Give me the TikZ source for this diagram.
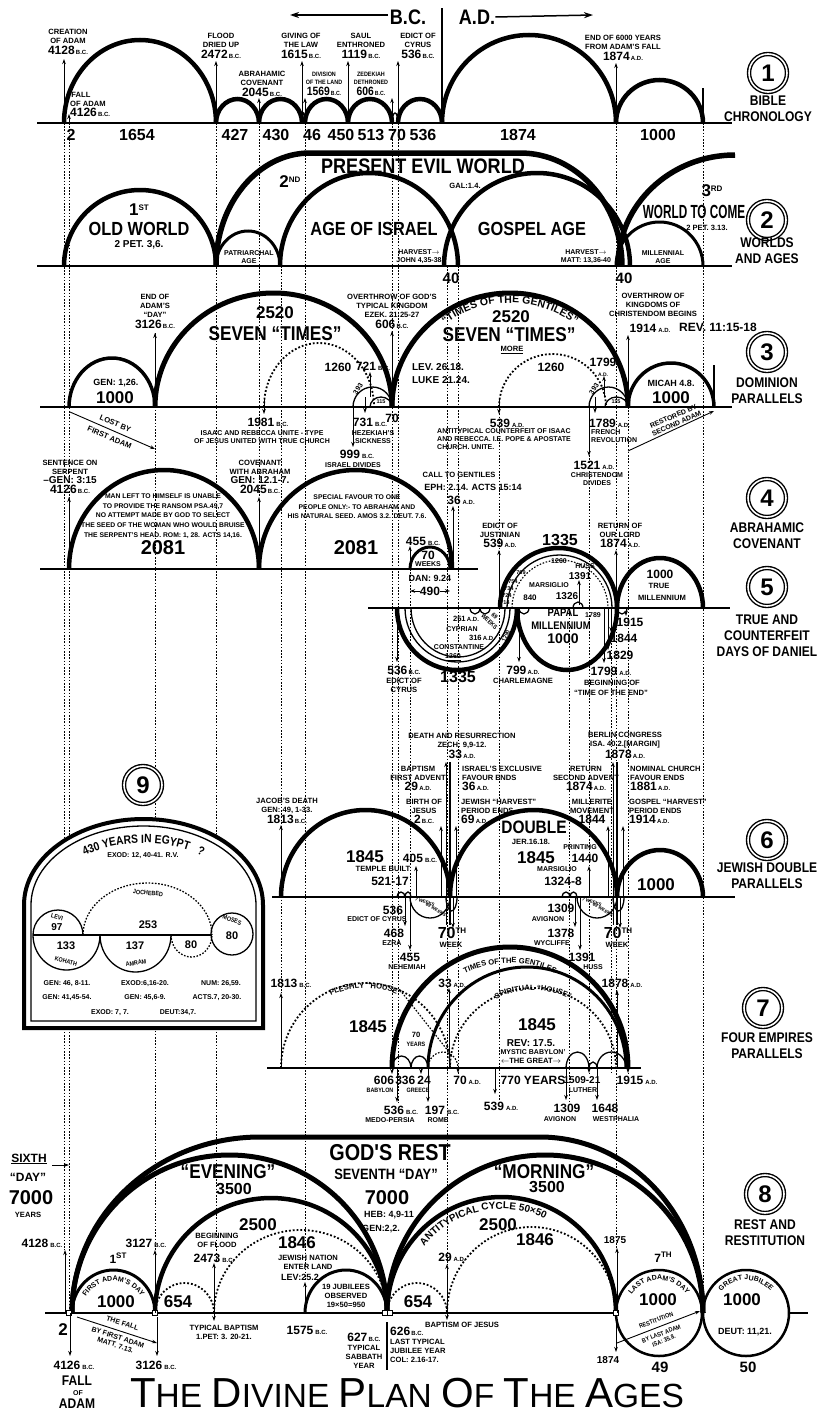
\documentclass[tikz,border=0pt]{standalone}
\usepackage{fontspec}
\setmainfont{Liberation Sans}
\newfontfamily\cfam{Liberation Sans}[FakeStretch=0.86]
\newfontfamily\titlefont{Liberation Sans}
\usetikzlibrary{arrows.meta,decorations.text}
\newcommand\lfs{\fontsize{7.6}{8.9}\selectfont\bfseries}
\newcommand\lft{\fontsize{7}{8}\selectfont\bfseries}
\newcommand\lfx{\cfam\fontsize{6.3}{7.4}\selectfont\bfseries}
\newcommand\lfm{\fontsize{12}{13}\selectfont\bfseries}
\newcommand\lfn{\fontsize{17}{18}\selectfont\bfseries}
\newcommand\lfb{\cfam\fontsize{19}{20}\selectfont\bfseries}
\newcommand\fsz[1]{\fontsize{#1}{#1}\selectfont\bfseries}
\newcommand\BC{\,{\fontsize{6}{6}\selectfont B.C.}}
\newcommand\AD{\,{\fontsize{6}{6}\selectfont A.D.}}
\newcommand\ra{\ensuremath{\rightarrow}}
\newcommand\la{\ensuremath{\leftarrow}}
\newcommand\sps[1]{\raisebox{5pt}{\fontsize{8}{8}\selectfont #1}}
\newcommand\tcap[2]{{\fontsize{42}{42}\selectfont #1}{\fontsize{33.5}{33.5}\selectfont #2}}
\newcommand\upa[5][]{\draw[#1] (#2,#5) arc[start angle=180,end angle=0,x radius={((#3)-(#2))*0.5pt},y radius={#4pt}];}
\newcommand\dna[5][]{\draw[#1] (#2,#5) arc[start angle=180,end angle=360,x radius={((#3)-(#2))*0.5pt},y radius={#4pt}];}
\newcommand\archtext[8]{\path[decorate,decoration={text along path,text align=center,text={|#1|#2}}] ([shift={(#7:#5pt and #6pt)}]#3,#4) arc[start angle=#7,end angle=#8,x radius=#5pt,y radius=#6pt];}
\begin{document}
\begin{tikzpicture}[x=1pt,y=-1pt,
  lbs/.style={font=\lfs,align=center,inner sep=0pt},
  lbt/.style={font=\lft,align=center,inner sep=0pt},
  lbx/.style={font=\lfx,align=center,inner sep=0pt},
  lbm/.style={font=\lfm,align=center,inner sep=0pt},
  lbn/.style={font=\lfn,align=center,inner sep=0pt},
  lbb/.style={font=\lfb,align=center,inner sep=0pt},
  thk/.style={line width=4.5pt},
  thm/.style={line width=3pt},
  thn/.style={line width=1.3pt},
  bln/.style={line width=1.8pt},
  dotc/.style={line width=1.8pt,dash pattern=on 1.8pt off 2pt},
  vd/.style={line width=0.9pt,dash pattern=on 1.6pt off 1.6pt},
  ar/.style={line width=0.9pt,-{Stealth[length=5pt,width=3.5pt]}},
  circ/.style={circle,draw,fill=white,double,double distance=1.6pt,line width=1.4pt,minimum size=38pt,inner sep=0pt,font=\fsz{24}},
  sidel/.style={font=\cfam\fontsize{14}{16}\selectfont\bfseries,align=center,inner sep=0pt}]
\fill[white] (0,0) rectangle (822,1413);
\useasboundingbox (0,0) rectangle (822,1413);

% ---------- dotted verticals
\foreach \x/\a/\b in {64/123/1250,69/123/1313,155/333/1250,216/123/1262,259/123/497,281/266/993,305/123/1281,392/123/1068,398/123/1103,410/569/957,447/266/1265,458/266/1076,499/407/1100,569/608/1103,589/407/1073,611/608/1073,616/123/1248,628/407/1073,703/123/1300}{\draw[vd] (\x,\a) -- (\x,\b);}

% ---------- header
\draw[line width=1.5pt,-{Stealth[length=9pt,width=6pt]}] (388,15) -- (290,15);
\node[font=\cfam\fsz{21},inner sep=0pt] (hbc) at (408,17) {B.C.};
\node[font=\cfam\fsz{21},inner sep=0pt] (had) at (477,17) {A.D.};
\draw[line width=1.5pt,-{Stealth[length=9pt,width=6pt]}] (had.east) -- (593,15);

% ---------- ROW 1
\draw[bln] (37,123) -- (732,123);
\upa[thk]{64}{216}{83}{123}
\upa[thk]{216}{259}{24}{123}
\upa[thk]{259}{302}{24}{123}
\upa[thn]{302}{305}{10}{123}
\upa[thk]{305}{348}{24}{123}
\upa[thk]{348}{392}{24}{123}
\upa[thn]{392}{398}{10}{123}
\upa[thk]{398}{442}{24}{123}
\upa[thk]{442}{616}{88}{123}
\upa[thk]{616}{703}{43}{123}
\draw[thn] (703,123) -- (703,88);
\draw[thn] (442,123) -- (442,8);
\foreach \x/\y in {64/59,216/61,302/61,348/61,398/61,616/63,69/114,259/98,305/98,392/98}{\draw[ar] (\x,123) -- (\x,\y);}
\node[lbs,anchor=south] (r1a) at (68,55) {CREATION\\OF ADAM\\[2pt]{\lfm 4128}\BC};
\node[lbs,anchor=south west,align=left] (r1b) at (70,117) {\,FALL\\OF ADAM\\[1pt]{\lfm 4126}\BC};
\node[lbs,anchor=south] (r1c) at (221,59) {FLOOD\\DRIED UP\\[2pt]{\lfm 2472}\BC};
\node[lbs,anchor=south] (r1d) at (262,97) {ABRAHAMIC\\COVENANT\\[2pt]{\lfm 2045}\BC};
\node[lbs,anchor=south] (r1e) at (301,59) {GIVING OF\\THE LAW\\[2pt]{\lfm 1615}\BC};
\node[lbx,anchor=south] (r1f) at (324,96) {DIVISION\\OF THE LAND\\[2pt]{\lfm 1569}\BC};
\node[lbs,anchor=south] (r1g) at (361,59) {SAUL\\ENTHRONED\\[2pt]{\lfm 1119}\BC};
\node[lbx,anchor=south] (r1h) at (371,96) {ZEDEKIAH\\DETHRONED\\[2pt]{\lfm 606}\BC};
\node[lbs,anchor=south] (r1i) at (418,59) {EDICT OF\\CYRUS\\[2pt]{\lfm 536}\BC};
\node[lbs,anchor=south] (r1j) at (623,61) {END OF 6000 YEARS\\FROM ADAM'S FALL\\[2pt]{\lfm 1874}\AD};
\foreach \x/\lab [count=\i] in {71/2,137/1654,235/427,276/430,312/46,341/450,371/513,397/70,423/536,518/1874,658/1000}{\node[font=\fsz{16},inner sep=0pt] (rn\i) at (\x,135) {\lab};}

% ---------- ROW 2
\draw[bln] (37,266) -- (732,266);
\upa[thk]{64}{216}{76}{266}
\upa[thm]{216}{280}{35}{266}
\draw[line width=5.5pt] (216,266) arc[start angle=180,end angle=90,x radius=94pt,y radius=113pt] -- (520,153) arc[start angle=90,end angle=0,x radius=102pt,y radius=113pt];
\upa[thk]{280}{458}{93}{266}
\upa[thk]{444}{630}{93}{266}
\upa[thm]{616}{703}{44}{266}
\draw[line width=5.5pt] (618,266) arc[start angle=180,end angle=90,x radius=117pt,y radius=111pt];
\node[lbn] (w1) at (139,210) {1\sps{ST}};
\node[lbb] (w2) at (139,229) {OLD WORLD};
\node[font=\fsz{10},inner sep=0pt] (w3) at (139,245) {2 PET. 3,6.};
\node[lbn] (w4) at (290,182) {2\sps{ND}};
\node[font=\cfam\fsz{21},inner sep=0pt] (w5) at (423,166) {PRESENT EVIL WORLD};
\node[lbs] (w6) at (465,186) {GAL:1.4.};
\node[lbt] (w7) at (249,257) {PATRIARCHAL\\AGE};
\node[lbb] (w8) at (374,229) {AGE OF ISRAEL};
\node[lbb] (w9) at (532,229) {GOSPEL AGE};
\node[lbt] (w10) at (419,257) {HARVEST\ra\\JOHN 4,35-38};
\node[lbt] (w11) at (586,257) {HARVEST\ra\\MATT: 13,36-40};
\node[lbt] (w12) at (663,257) {MILLENNIAL\\AGE};
\node[lbn] (w13) at (712,191) {3\sps{RD}};
\node[lbb] (w14) at (694,212) {\scalebox{0.72}[1]{WORLD TO COME}};
\node[lbs] (w15) at (707,228) {2 PET. 3.13.};
\node[font=\fsz{15},inner sep=0pt] (w16) at (451,278) {40};
\node[font=\fsz{15},inner sep=0pt] (w17) at (624,278) {40};

% ---------- ROW 3
\draw[bln] (40,407) -- (732,407);
\upa[line width=3.5pt]{69}{155}{49}{407}
\upa[line width=5pt]{155}{392}{114}{407}
\upa[line width=5pt]{392}{628}{114}{407}
\upa[line width=3.5pt]{628}{714}{44}{407}
\draw[thn] (714,407) -- (714,365);
\upa[dotc]{264}{374}{64}{407}
\upa[thn]{353}{392}{20}{407}
\upa[thn]{370}{392}{10}{407}
\upa[dotc]{499}{606}{53}{407}
\upa[thn]{589}{628}{20}{407}
\upa[thn]{605}{628}{10}{407}
\draw[ar] (155,407) -- (155,333);
\draw[ar] (392,407) -- (392,331);
\draw[ar] (370,397) -- (370,372);
\draw[ar] (604,397) -- (604,376);
\draw[ar] (628,407) -- (628,335);
\draw[ar] (264,398) -- (264,414);
\draw[ar] (499,399) -- (499,414);
\draw[ar] (365,397) -- (365,413);
\draw[ar] (353,407) -- (353,447);
\draw[ar] (589,407) -- (589,456);
\draw[ar] (595,397) -- (595,413);
\node[font=\fsz{9},inner sep=0pt] (d1) at (116,383) {GEN: 1,26.};
\node[lbn] (d2) at (115,398) {1000};
\node[lbs,anchor=south] (d3) at (155,329) {END OF\\ADAM'S\\“DAY”\\[2pt]{\lfm 3126}\BC};
\node[lbn] (d4) at (275,313) {2520};
\node[font=\cfam\fsz{20},inner sep=0pt] (d5) at (275,334) {SEVEN “TIMES”};
\node[lbm] (d6) at (338,367) {1260};
\node[lbm] (d7) at (373,366) {721\BC};
\node[lbt,rotate=55] (d8) at (358,389) {393};
\node[font=\fsz{5.5},inner sep=0pt] (d9) at (381,402) {115};
\node[lbm] (d10) at (392,418) {70};
\node[lbs,anchor=south] (d11) at (392,329) {OVERTHROW OF GOD'S\\TYPICAL KINGDOM\\EZEK. 21:25-27\\[2pt]{\lfm 606}\BC};
\node[lbm] (d12) at (268,422) {1981\BC};
\node[lbt] (d13) at (262,437) {ISAAC AND REBECCA UNITE - TYPE\\OF JESUS UNITED WITH TRUE CHURCH};
\node[lbm] (d14) at (370,422) {731\BC};
\node[lbt] (d15) at (373,437) {HEZEKIAH'S\\SICKNESS};
\node[lbm] (d16) at (357,454) {999\BC};
\node[lbt] (d17) at (353,465) {ISRAEL DIVIDES};
\node[font=\fontsize{10}{13}\selectfont\bfseries,align=left,inner sep=0pt] (d18) at (441,374) {LEV. 26.18.\\LUKE 21.24.};
\node[lbn] (d19) at (511,317) {2520};
\node[font=\cfam\fsz{20},inner sep=0pt] (d20) at (509,335) {SEVEN “TIMES”};
\node[lbs] (d21) at (512,350) {\underline{MORE}};
\archtext{\fsz{10.5}}{“TIMES OF THE GENTILES”}{510}{407}{107}{104}{180}{0}
\node[lbm] (d22) at (551,367) {1260};
\node[lbm] (d23) at (603,367) {1799\\[-3pt]{\fontsize{5}{5}\selectfont A.D.}};
\node[lbt,rotate=55] (d24) at (594,389) {393};
\node[font=\fsz{5.5},inner sep=0pt] (d25) at (616,402) {115};
\node[lbm] (d26) at (507,423) {539\AD};
\node[lbt,align=left,anchor=north west] (d27) at (437,428) {ANTITYPICAL COUNTERFEIT OF ISAAC\\AND REBECCA. I.E. POPE \& APOSTATE\\CHURCH. UNITE.};
\node[lbm,anchor=west] (d28) at (589,423) {1789\AD};
\node[lbt,align=left,anchor=north west] (d29) at (591,429) {FRENCH\\REVOLUTION};
\node[lbm] (d30) at (594,465) {1521\AD};
\node[lbt] (d31) at (597,479) {CHRISTENDOM\\DIVIDES};
\node[lbs] (d32) at (653,305) {OVERTHROW OF\\KINGDOMS OF\\CHRISTENDOM BEGINS};
\node[lbm] (d33) at (650,328) {1914\AD};
\node[lbm] (d34) at (718,327) {REV. 11:15-18};
\node[font=\fsz{9},inner sep=0pt] (d35) at (671,383) {MICAH 4.8.};
\node[lbn] (d36) at (671,398) {1000};
\draw[ar] (70,412) -- (155,449);
\node[lbs,rotate=-23] (d37) at (112.5,430.5) {LOST BY\\[6pt]FIRST ADAM};
\draw[ar] (628,451) -- (714,411);
\node[lbt,rotate=24] (d39) at (675,420) {RESTORED BY\\SECOND ADAM};

% ---------- ROW 4
\draw[bln] (40,569) -- (478,569);
\upa[thk]{69}{259}{99}{569}
\upa[thk]{259}{452}{99}{569}
\upa[thm]{410}{450}{22}{569}
\draw[ar] (69,569) -- (69,497);
\draw[ar] (259,569) -- (259,497);
\draw[ar] (453,569) -- (453,506);
\draw[ar] (410,569) -- (410,546);
\node[lbs,anchor=south] (a1) at (70,494) {SENTENCE ON\\SERPENT\\{\fsz{10}--GEN: 3:15}\\[1pt]{\lfm 4126}\BC};
\node[lbs,anchor=south] (a2) at (260,494) {COVENANT\\WITH ABRAHAM\\{\fsz{10}GEN: 12.1-7.}\\[1pt]{\lfm 2045}\BC};
\node[font=\fontsize{6.8}{9.6}\selectfont\bfseries,align=center,inner sep=0pt] (a3) at (163,516) {MAN LEFT TO HIMSELF IS UNABLE\\TO PROVIDE THE RANSOM PSA.49,7\\NO ATTEMPT MADE BY GOD TO SELECT\\THE SEED OF THE WOMAN WHO WOULD BRUISE\\THE SERPENT'S HEAD. ROM: 1, 28. ACTS 14,16.};
\node[font=\fsz{20},inner sep=0pt] (a4) at (163,548) {2081};
\node[font=\fsz{20},inner sep=0pt] (a5) at (356,548) {2081};
\node[font=\fontsize{6.8}{9.6}\selectfont\bfseries,align=center,inner sep=0pt] (a6) at (357,507) {SPECIAL FAVOUR TO ONE\\PEOPLE ONLY:- TO ABRAHAM AND\\HIS NATURAL SEED. AMOS 3.2. DEUT. 7.6.};
\node[lbs] (a7) at (459,475) {CALL TO GENTILES};
\node[font=\fsz{9},inner sep=0pt] (a8) at (473,487) {EPH: 2.14. ACTS 15:14};
\node[lbm] (a9) at (461,500) {36\AD};
\node[lbm] (a10) at (423,541) {455\BC};
\node[lbm] (a11) at (428,555) {70};
\node[lbt] (a12) at (428,564) {WEEKS};
\node[font=\fsz{9},inner sep=0pt] (a13) at (430,578) {DAN: 9.24};
\node[lbm] (a14) at (430,591) {490};
\draw[ar] (a14.west) -- (410,591);
\draw[ar] (a14.east) -- (450,591);

% ---------- ROW 5
\draw[bln] (368,608) -- (730,608);
\dna[thk]{397}{517}{62}{608}
\dna[thn]{405}{510}{54}{608}
\dna[thn]{411}{505}{49}{608}
\upa[thk]{500}{617}{60}{608}
\upa[thn]{507}{612}{53}{608}
\upa[vd,line width=1.1pt]{512}{608}{48}{608}
\dna[thk]{517}{617}{62}{608}
\upa[thk]{617}{703}{50}{608}
\dna[thn]{470}{480}{6}{608}
\dna[thn]{480}{490}{6}{608}
\dna[thn]{519}{529}{6}{608}
\upa[thn]{573}{583}{6}{608}
\dna[thn]{617}{627}{6}{608}
\draw[ar] (499,608) -- (499,550);
\draw[ar] (616,608) -- (616,550);
\draw[ar] (579,605) -- (579,580);
\draw[ar] (397,608) -- (397,662);
\draw[ar] (519,608) -- (519,662);
\draw[ar] (604,608) -- (604,663);
\draw[ar] (608,608) -- (608,650);
\draw[ar] (611,608) -- (611,632);
\draw[ar] (626,608) -- (626,616);
\node[lbs,anchor=south] (e1) at (500,548) {EDICT OF\\JUSTINIAN\\[1pt]{\lfm 539}\AD};
\node[font=\fsz{16},inner sep=0pt] (e2) at (560,540) {1335};
\node[lbt] (e3) at (559,561) {1260};
\node[lbt] (e4) at (585,566) {HUSS};
\node[font=\fsz{10},inner sep=0pt] (e5) at (580,576) {1391};
\node[lbt] (e6) at (549,585) {MARSIGLIO};
\node[font=\fsz{10},inner sep=0pt] (e7) at (567,596) {1326};
\node[lbs,anchor=south] (e8) at (620,548) {RETURN OF\\OUR LORD\\[1pt]{\lfm 1874}\AD};
\node[font=\fsz{5.5},inner sep=0pt] (e9a) at (521,573) {769};
\node[font=\fsz{5.5},inner sep=0pt] (e9b) at (513,582) {754};
\node[font=\fsz{5.5},inner sep=0pt] (e9c) at (509,589) {734};
\node[font=\fsz{5.5},inner sep=0pt] (e9d) at (507,596) {724};
\node[font=\fsz{5.5},inner sep=0pt] (e9e) at (505,603) {714};
\node[font=\fsz{8},inner sep=0pt] (e10) at (530,598) {840};
\node[lbx,rotate=-45] (e11) at (492,619) {69\\WEEKS};
\node[lbs] (e12) at (466,619) {251\AD};
\node[lbt] (e13) at (462,629) {CYPRIAN};
\node[lbs] (e14) at (482,638) {316\AD};
\node[lbt] (e15) at (459,647) {CONSTANTINE};
\node[lbt] (e16) at (453,657) {\underline{1260}};
\node[lbx,rotate=65] (e17) at (506,636) {1290};
\node[font=\fsz{16},inner sep=0pt] (e18) at (458,677) {1335};
\node[lbs,anchor=north] (e19) at (404,666) {{\lfm 536}\BC\\EDICT OF\\CYRUS};
\node[lbs,anchor=north] (e20) at (523,666) {{\lfm 799}\AD\\CHARLEMAGNE};
\node[font=\cfam\fsz{11},inner sep=0pt] (e21) at (563,613) {PAPAL};
\node[font=\cfam\fsz{11},inner sep=0pt] (e22) at (561,626) {MILLENNIUM};
\node[font=\fsz{14},inner sep=0pt] (e23) at (563,639) {1000};
\node[lbt] (e24) at (593,615) {1789};
\node[lbm] (e25) at (630,622) {1915};
\node[lbm] (e26) at (624,638) {1844};
\node[lbm] (e27) at (620,655) {1829};
\node[lbm] (e28) at (611,671) {1799\AD};
\node[lbs] (e29) at (612,683) {BEGINNING OF};
\node[lbs] (e30) at (611,693) {“TIME OF THE END”};
\node[font=\fsz{12},inner sep=0pt] (e31) at (660,574) {1000};
\node[lbs] (e32) at (659,586) {TRUE};
\node[lbs] (e33) at (662,598) {MILLENNIUM};

% ---------- ROW 6
\draw[bln] (272,897) -- (735,897);
\upa[thk]{281}{450}{87}{897}
\upa[thk]{450}{617}{87}{897}
\upa[thk]{617}{703}{47}{897}
\upa[thn]{397}{405}{5}{897}
\upa[thn]{405}{411}{5}{897}
\dna[thn]{410}{450}{21}{897}
\dna[thn]{446}{457}{14}{897}
\upa[thn]{562}{570}{5}{897}
\upa[thn]{570}{577}{5}{897}
\dna[thn]{577}{617}{21}{897}
\dna[thn]{613}{624}{14}{897}
\draw[ar] (281,897) -- (281,825);
\draw[ar] (416,897) -- (416,866);
\draw[ar] (441,897) -- (441,826);
\draw[ar] (446,925) -- (446,762);
\draw[thn] (450,925) -- (450,762);
\draw[ar] (456,897) -- (456,826);
\draw[ar] (589,897) -- (589,866);
\draw[ar] (608,897) -- (608,826);
\draw[ar] (613,925) -- (613,762);
\draw[thn] (617,925) -- (617,762);
\draw[ar] (623,897) -- (623,826);
\draw[ar] (405,897) -- (405,926);
\draw[ar] (410,897) -- (410,950);
\draw[ar] (453,897) -- (453,928);
\draw[ar] (575,897) -- (575,927);
\draw[ar] (580,897) -- (580,950);
\draw[ar] (620,897) -- (620,928);
\node[lbs,anchor=south] (j1) at (287,824) {JACOB'S DEATH\\GEN: 49, 1-33.\\[1pt]{\lfm 1813}\BC};
\node[lbn] (j2) at (365,857) {1845};
\node[lbs] (j3) at (383,869) {TEMPLE BUILT};
\node[lbm] (j4) at (390,881) {521-17};
\node[lbm] (j5) at (420,858) {405\BC};
\node[lbs,anchor=south] (j6) at (418,791) {BAPTISM\\FIRST ADVENT\\[1pt]{\lfm 29}\AD};
\node[lbs,anchor=south] (j7) at (424,824) {BIRTH OF\\JESUS\\[1pt]{\lfm 2}\BC};
\node[lbs,anchor=south west,align=left] (j8) at (462,791) {ISRAEL'S EXCLUSIVE\\FAVOUR ENDS\\[1pt]{\lfm 36}\AD};
\node[lbs,anchor=south west,align=left] (j9) at (461,824) {JEWISH “HARVEST”\\PERIOD ENDS\\[1pt]{\lfm 69}\AD};
\node[lbs,anchor=south] (j10) at (462,759) {DEATH AND RESURRECTION\\ZECH: 9,9-12.\\[1pt]{\lfm 33}\AD};
\node[font=\cfam\fsz{18},inner sep=0pt] (j11) at (534,827) {DOUBLE};
\node[lbs] (j12) at (531,842) {JER.16.18.};
\node[lbn] (j13) at (536,858) {1845};
\node[lbt] (j14) at (580,847) {PRINTING};
\node[lbm] (j15) at (585,858) {1440};
\node[lbt] (j16) at (557,869) {MARSIGLIO};
\node[lbm] (j17) at (563,881) {1324-8};
\node[lbs,anchor=south] (j18) at (586,791) {RETURN\\SECOND ADVENT\\[1pt]{\lfm 1874}\AD};
\node[lbs,anchor=south] (j19) at (592,824) {MILLERITE\\MOVEMENT\\[1pt]{\lfm 1844}};
\node[lbs,anchor=south west,align=left] (j20) at (630,791) {NOMINAL CHURCH\\FAVOUR ENDS\\[1pt]{\lfm 1881}\AD};
\node[lbs,anchor=south west,align=left] (j21) at (629,824) {GOSPEL “HARVEST”\\PERIOD ENDS\\[1pt]{\lfm 1914}\AD};
\node[lbs,anchor=south] (j22) at (625,759) {BERLIN CONGRESS\\ISA. 40.2.[MARGIN]\\[1pt]{\lfm 1878}\AD};
\node[lbn] (j23) at (656,885) {1000};
\node[lbm] (j24) at (393,910) {536};
\node[lbt] (j25) at (377,919) {EDICT OF CYRUS};
\node[lbm] (j26) at (394,933) {468};
\node[lbt] (j27) at (392,943) {EZRA};
\node[lbm] (j28) at (410,957) {455};
\node[lbt] (j29) at (407,967) {NEHEMIAH};
\node[font=\fsz{16},inner sep=0pt] (j30) at (452,933) {70\sps{TH}};
\node[lbs] (j31) at (451,945) {WEEK};
\node[font=\fsz{16},inner sep=0pt] (j32) at (618,933) {70\sps{TH}};
\node[lbs] (j33) at (617,945) {WEEK};
\node[lbm] (j34) at (561,908) {1309};
\node[lbt] (j35) at (548,919) {AVIGNON};
\node[lbm] (j36) at (561,933) {1378};
\node[lbt] (j37) at (552,943) {WYCLIFFE};
\node[lbm] (j38) at (582,957) {1391};
\node[lbt] (j39) at (593,967) {HUSS};
\node[font=\fsz{4.5},rotate=-20,inner sep=0pt] (j40) at (425,902) {7 WEEKS};
\node[font=\fsz{4.5},rotate=-30,inner sep=0pt] (j41) at (436,910) {69 WEEKS};
\node[font=\fsz{4.5},rotate=-20,inner sep=0pt] (j42) at (592,902) {7 WEEKS};
\node[font=\fsz{4.5},rotate=-30,inner sep=0pt] (j43) at (603,910) {69 WEEKS};

% ---------- ROW 7
\draw[bln] (267,1068) -- (641,1068);
\upa[dotc]{281}{450}{85}{1068}
\upa[line width=5pt]{392}{628}{121}{1068}
\upa[thm]{428}{626}{101}{1068}
\upa[dotc]{450}{616}{80}{1068}
\upa[thn]{392}{411}{12}{1068}
\upa[thn]{411}{428}{12}{1068}
\upa[vd,line width=1.2pt]{428}{458}{16}{1068}
\upa[thn]{566}{589}{16}{1068}
\upa[thn]{589}{597}{6}{1068}
\upa[thn]{597}{626}{16}{1068}
\draw[vd,line width=1.2pt] (400,990) -- (449,1052);
\draw[ar] (281,1068) -- (281,993);
\draw[ar] (449,1068) -- (449,988);
\draw[ar] (617,1068) -- (617,990);
\draw[ar] (397,1068) -- (397,1102);
\draw[ar] (428,1068) -- (428,1102);
\draw[ar] (421,1068) -- (421,1074);
\draw[ar] (392,1068) -- (392,1074);
\draw[ar] (458,1068) -- (458,1073);
\draw[ar] (495,1068) -- (495,1094);
\draw[ar] (566,1068) -- (566,1100);
\draw[ar] (597,1068) -- (597,1100);
\draw[ar] (589,1068) -- (589,1073);
\draw[ar] (628,1068) -- (628,1073);
\node[lbm] (f1) at (291,983) {1813\BC};
\archtext{\lfs}{FLESHLY “HOUSE”}{365.5}{1068}{80}{80}{180}{0}
\node[lbn] (f2) at (368,1027) {1845};
\node[lbs] (f3) at (416,1035) {70};
\node[lbx] (f4) at (416,1044) {YEARS};
\node[lbm] (f5) at (452,983) {33\AD};
\node[lbm] (f6) at (622,983) {1878\AD};
\archtext{\lfs}{TIMES OF THE GENTILES}{510}{1068}{105}{105}{180}{0}
\archtext{\lfs}{SPIRITUAL “HOUSE”}{533}{1068}{79}{78}{180}{0}
\node[lbn] (f7) at (537,1025) {1845};
\node[font=\fsz{10},inner sep=0pt] (f8) at (531,1043) {REV: 17.5.};
\node[lbt] (f9) at (533,1052) {MYSTIC BABYLON'};
\node[lbs] (f10) at (531,1061) {\la THE GREAT\ra};
\node[lbm] (f11) at (384,1080) {606};
\node[lbx] (f12) at (380,1090) {BABYLON};
\node[lbm] (f13) at (413,1080) {336\,24};
\node[lbx] (f14) at (418,1090) {GREECE};
\node[lbm] (f15) at (401,1110) {536\BC};
\node[lbt] (f16) at (390,1120) {MEDO-PERSIA};
\node[lbm] (f17) at (442,1110) {197\BC};
\node[lbt] (f18) at (438,1120) {ROME};
\node[lbm] (f19) at (467,1080) {70\AD};
\node[lbm] (f20) at (533,1080) {770 YEARS};
\node[font=\fsz{10},inner sep=0pt] (f21) at (582,1080) {1509-21};
\node[lbt] (f22) at (583,1090) {LUTHER};
\node[lbm] (f23) at (637,1080) {1915\AD};
\node[lbm] (f24) at (501,1106) {539\AD};
\node[lbm] (f25) at (567,1108) {1309};
\node[lbt] (f26) at (560,1119) {AVIGNON};
\node[lbm] (f27) at (605,1108) {1648};
\node[lbt] (f28) at (616,1119) {WESTPHALIA};

% ---------- inset 9
\path[fill=white] (22,1030) -- (22,905) arc[start angle=180,end angle=0,x radius=121.5pt,y radius=88pt] -- (265,1030) -- cycle;
\draw[line width=4pt] (24,1028) -- (24,905) arc[start angle=180,end angle=0,x radius=119.5pt,y radius=86pt] -- (263,1028) -- cycle;
\draw[line width=1.3pt] (31,1021) -- (31,905) arc[start angle=180,end angle=0,x radius=112.5pt,y radius=79pt] -- (256,1021) -- cycle;
\node[circ] (c9) at (143,785) {9};
\archtext{\cfam\fsz{12}}{430 YEARS IN EGYPT\ \ \ ?}{143.5}{905}{97}{62}{180}{0}
\node[lbt] (i1) at (143,856) {EXOD: 12, 40-41. R.V.};
\draw[thn] (33,935) -- (212,935);
\upa[thn]{33}{83}{25}{935}
\upa[vd,line width=1.3pt]{83}{212}{52}{935}
\draw[thn] (232,934) circle[radius=21pt];
\dna[thn]{33}{100}{35}{935}
\dna[thn]{100}{171}{37}{935}
\dna[vd,line width=1.3pt]{171}{212}{22}{935}
\node[lbx,rotate=-15] (i2) at (57,917) {LEVI};
\node[font=\fsz{10},inner sep=0pt] (i3) at (57,927) {97};
\node[lbx,rotate=-5] (i4) at (148,893) {JOCHEBED};
\node[font=\fsz{11},inner sep=0pt] (i5) at (148,925) {253};
\node[lbx,rotate=-20] (i6) at (232,920) {MOSES};
\node[font=\fsz{11},inner sep=0pt] (i7) at (232,936) {80};
\node[font=\fsz{11},inner sep=0pt] (i8) at (66,946) {133};
\node[lbx,rotate=-15] (i9) at (66,961) {KOHATH};
\node[font=\fsz{11},inner sep=0pt] (i10) at (135,946) {137};
\node[lbx,rotate=10] (i11) at (136,963) {AMRAM};
\node[font=\fsz{11},inner sep=0pt] (i12) at (191,945) {80};
\node[lbt] (i13) at (67,984) {GEN: 46, 8-11.};
\node[lbt] (i14) at (145,984) {EXOD:6,16-20.};
\node[lbt] (i15) at (221,984) {NUM: 26,59.};
\node[lbt] (i16) at (67,998) {GEN: 41,45-54.};
\node[lbt] (i17) at (145,998) {GEN: 45,6-9.};
\node[lbt] (i18) at (217,998) {ACTS.7, 20-30.};
\node[lbt] (i19) at (110,1013) {EXOD: 7, 7.};
\node[lbt] (i20) at (178,1013) {DEUT:34,7.};

% ---------- ROW 8
\draw[bln] (45,1313) -- (616,1313);
\draw[bln] (789,1313) -- (808,1313);
\draw[line width=5pt] (72,1313) arc[start angle=180,end angle=90,x radius=188pt,y radius=176pt] -- (540,1137) arc[start angle=90,end angle=0,x radius=163pt,y radius=176pt];
\upa[line width=5pt]{72}{387}{158}{1313}
\upa[line width=5pt]{387}{703}{158}{1313}
\upa[thk]{155}{387}{115}{1313}
\upa[thm]{72}{155}{43}{1313}
\upa[dotc]{155}{214}{30}{1313}
\upa[dotc]{214}{387}{83}{1313}
\upa[thm]{305}{387}{43}{1313}
\upa[dotc]{387}{447}{30}{1313}
\upa[thk]{387}{616}{116}{1313}
\upa[dotc]{447}{616}{86}{1313}
\draw[line width=2.5pt] (659,1313) circle[radius=43pt];
\draw[line width=2.5pt] (746,1313) circle[radius=43pt];
\foreach \x in {69,155,385,390,616}{\draw[line width=0.8pt,fill=white] (\x-2.5,1310.5) rectangle (\x+2.5,1315.5);}
\draw[ar] (65,1313) -- (65,1250);
\draw[ar] (155,1313) -- (155,1250);
\draw[ar] (214,1313) -- (214,1263);
\draw[ar] (305,1313) -- (305,1282);
\draw[ar] (447,1313) -- (447,1264);
\draw[ar] (617,1313) -- (617,1248);
\draw[ar] (70,1313) -- (70,1356);
\draw[ar] (157,1317) -- (157,1356);
\draw[ar] (214,1313) -- (214,1321);
\draw[ar] (447,1313) -- (447,1320);
\draw[ar] (616,1316) -- (616,1352);
\draw[ar] (77,1317) -- (157,1343);
\draw[ar] (617,1343) -- (700,1311);
\draw[ar] (52,1165) -- (69,1165);
\draw[thn] (387,1322) -- (387,1370);
\node[lbm] (g1) at (29,1159) {\underline{SIXTH}};
\node[lbm] (g2) at (28,1177) {“DAY”};
\node[font=\fsz{20},inner sep=0pt] (g3) at (31,1198) {7000};
\node[lbs] (g4) at (28,1215) {YEARS};
\node[lbm] (g5) at (42,1243) {4128\BC};
\node[font=\fsz{12},inner sep=0pt] (g6) at (118,1258) {1\sps{ST}};
\archtext{\lft}{FIRST ADAM'S DAY}{113.5}{1313}{32}{32}{180}{0}
\node[lbn] (g7) at (116,1302) {1000};
\node[lbm] (g8) at (146,1243) {3127\BC};
\node[font=\cfam\fsz{20},inner sep=0pt] (g9) at (228,1172) {“EVENING”};
\node[font=\fsz{16},inner sep=0pt] (g10) at (234,1189) {3500};
\node[lbn] (g11) at (258,1225) {2500};
\node[lbs] (g12) at (217,1240) {BEGINNING\\OF FLOOD};
\node[lbm] (g13) at (214,1258) {2473\BC};
\node[lbn] (g14) at (178,1302) {654};
\node[lbn] (g15) at (297,1243) {1846};
\node[lbs] (g16) at (308,1262) {JEWISH NATION\\ENTER LAND};
\node[font=\fsz{9},inner sep=0pt] (g17) at (300,1277) {LEV:25.2};
\node[lbs] (g18) at (346,1296) {19 JUBILEES\\OBSERVED\\19×50=950};
\node[font=\cfam\fsz{23},inner sep=0pt] (g19) at (390,1153) {GOD'S REST};
\node[font=\cfam\fsz{15},inner sep=0pt] (g20) at (386,1174) {SEVENTH “DAY”};
\node[font=\fsz{20},inner sep=0pt] (g21) at (387,1198) {7000};
\node[font=\fsz{9},inner sep=0pt] (g22) at (389,1215) {HEB: 4,9-11};
\node[font=\fsz{9},inner sep=0pt] (g23) at (381,1229) {GEN:2,2.};
\node[font=\cfam\fsz{20},inner sep=0pt] (g24) at (544,1172) {“MORNING”};
\node[font=\fsz{16},inner sep=0pt] (g25) at (547,1187) {3500};
\archtext{\fsz{10}}{ANTITYPICAL CYCLE 50×50}{501.5}{1313}{101}{104}{192}{12}
\node[lbn] (g26) at (498,1225) {2500};
\node[lbn] (g27) at (535,1240) {1846};
\node[lbm] (g28) at (452,1257) {29\AD};
\node[lbn] (g29) at (418,1302) {654};
\node[font=\fsz{10},inner sep=0pt] (g30) at (615,1240) {1875};
\node[lbm] (g31) at (663,1257) {7\sps{TH}};
\archtext{\lft}{LAST ADAM'S DAY}{659}{1313}{33}{33}{180}{0}
\node[lbn] (g32) at (658,1300) {1000};
\node[lbx,rotate=21] (g33) at (660,1330.5) {RESTITUTION\\[7pt]BY LAST ADAM\\ISA: 35.8.};
\archtext{\lft}{GREAT JUBILEE}{746}{1313}{33}{33}{180}{0}
\node[lbn] (g35) at (742,1300) {1000};
\node[font=\fsz{9},inner sep=0pt] (g36) at (745,1332) {DEUT: 11,21.};
\node[font=\fsz{15},inner sep=0pt] (g37) at (660,1367) {49};
\node[font=\fsz{15},inner sep=0pt] (g38) at (748,1367) {50};
\node[font=\fsz{10},inner sep=0pt] (g39) at (608,1360) {1874};
\node[lbs] (g40) at (462,1325) {BAPTISM OF JESUS};
\node[lbn] (g41) at (63,1330) {2};
\node[lbt,rotate=-18] (g42) at (119,1334) {THE FALL\\[7pt]BY FIRST ADAM\\MATT. 7.13.};
\node[lbm] (g44) at (74,1365) {4126\BC};
\node[font=\cfam\fsz{14},inner sep=0pt] (g45) at (77,1381) {FALL};
\node[lbt] (g46) at (78,1393) {OF};
\node[font=\cfam\fsz{14},inner sep=0pt] (g47) at (77,1404) {ADAM};
\node[lbm] (g48) at (156,1365) {3126\BC};
\node[lbs] (g49) at (224,1332) {TYPICAL BAPTISM\\1.PET: 3. 20-21.};
\node[lbm] (g50) at (307,1330) {1575\BC};
\node[lbs] (g51) at (364,1351) {{\lfm 627}\BC\\TYPICAL\\SABBATH\\YEAR};
\node[lbs,align=left,anchor=north west] (g52) at (390,1327) {{\lfm 626}\BC\\LAST TYPICAL\\JUBILEE YEAR\\COL: 2.16-17.};

% ---------- title
\node[font=\titlefont\fontsize{33.5}{34}\selectfont,anchor=base,inner sep=0pt] (title) at (407,1407) {\tcap{T}{HE} \tcap{D}{IVINE} \tcap{P}{LAN} \tcap{O}{F} \tcap{T}{HE} \tcap{A}{GES}};

% ---------- side circles
\node[circ] (c1) at (768,73) {1};
\node[sidel] (s1) at (768,109) {BIBLE\\CHRONOLOGY};
\node[circ] (c2) at (767,220) {2};
\node[sidel] (s2) at (767,251) {WORLDS\\AND AGES};
\node[circ] (c3) at (767,352) {3};
\node[sidel] (s3) at (767,391) {DOMINION\\PARALLELS};
\node[circ] (c4) at (767,498) {4};
\node[sidel] (s4) at (767,536) {ABRAHAMIC\\COVENANT};
\node[circ] (c5) at (767,587) {5};
\node[sidel] (s5) at (767,636) {TRUE AND\\COUNTERFEIT\\DAYS OF DANIEL};
\node[circ] (c6) at (767,840) {6};
\node[sidel] (s6) at (767,876) {JEWISH DOUBLE\\PARALLELS};
\node[circ] (c7) at (763,1008) {7};
\node[sidel] (s7) at (767,1046) {FOUR EMPIRES\\PARALLELS};
\node[circ] (c8) at (765,1194) {8};
\node[sidel] (s8) at (765,1233) {REST AND\\RESTITUTION};
\end{tikzpicture}
\end{document}
